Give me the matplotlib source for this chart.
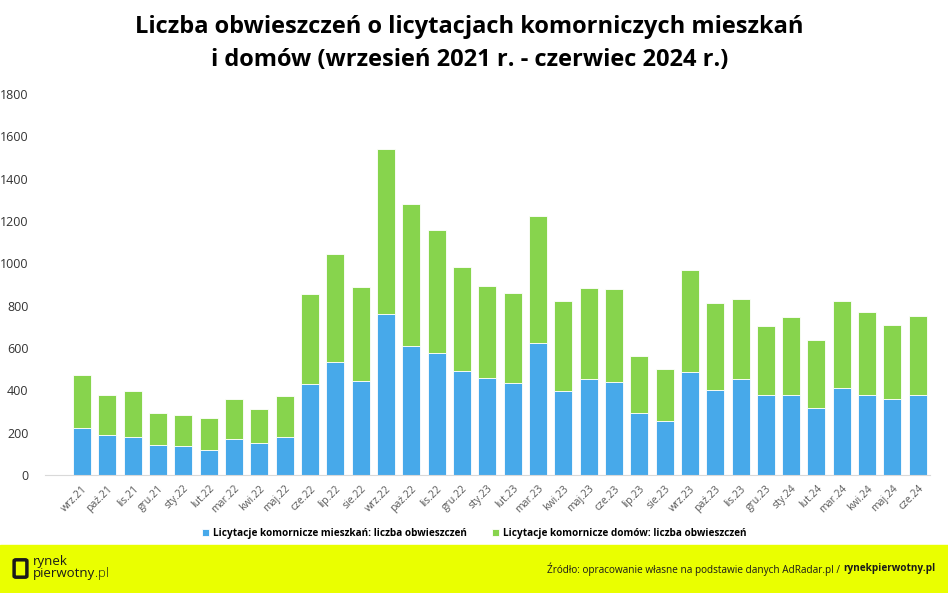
import matplotlib.pyplot as plt
from matplotlib.patches import Rectangle, FancyBboxPatch
import numpy as np

months = ['wrz.21', 'paź.21', 'lis.21', 'gru.21', 'sty.22', 'lut.22', 'mar.22', 'kwi.22', 'maj.22',
          'cze.22', 'lip.22', 'sie.22', 'wrz.22', 'paź.22', 'lis.22', 'gru.22', 'sty.23', 'lut.23',
          'mar.23', 'kwi.23', 'maj.23', 'cze.23', 'lip.23', 'sie.23', 'wrz.23', 'paź.23', 'lis.23',
          'gru.23', 'sty.24', 'lut.24', 'mar.24', 'kwi.24', 'maj.24', 'cze.24']

mieszkania = [223, 189, 179, 143, 139, 120, 170, 151, 179, 431, 534, 444, 762, 609, 575, 493, 458,
              435, 622, 397, 455, 438, 291, 257, 487, 403, 452, 378, 378, 318, 412, 379, 360, 379]
razem = [471, 378, 395, 293, 283, 269, 359, 310, 372, 857, 1042, 888, 1540, 1279, 1156, 981, 893,
         858, 1223, 820, 882, 877, 564, 499, 970, 812, 833, 704, 748, 638, 822, 771, 710, 751]
domy = [r - m for r, m in zip(razem, mieszkania)]

blue = '#47A9EA'
green = '#87D44D'

plt.rcParams['font.family'] = ['Open Sans', 'DejaVu Sans']

fig = plt.figure(figsize=(9.48, 5.93), dpi=100)
ax = fig.add_axes([0.0475, 0.199, 0.934, 0.6425])

x = np.arange(len(months))
ax.bar(x, mieszkania, width=0.71, color=blue, edgecolor='white', linewidth=0.6,
       label='Licytacje komornicze mieszkań: liczba obwieszczeń')
ax.bar(x, domy, width=0.71, bottom=mieszkania, color=green, edgecolor='white', linewidth=0.6,
       label='Licytacje komornicze domów: liczba obwieszczeń')

ax.set_xlim(-1.46, 33.5)
ax.set_ylim(0, 1800)
ax.set_yticks(range(0, 1801, 200))
ax.set_xticks(x)
ax.set_xticklabels(months, rotation=45, ha='right', rotation_mode='anchor', fontsize=7.5, color='#595959')
ax.tick_params(axis='y', labelsize=9, colors='#333333', length=0, pad=12)
ax.tick_params(axis='x', length=0, pad=6)
for s in ['top', 'right', 'left']:
    ax.spines[s].set_visible(False)
ax.spines['bottom'].set_color('#d9d9d9')

ax.legend(loc='upper center', bbox_to_anchor=(0.485, -0.115), ncol=2, frameon=False,
          prop={'weight': 'bold', 'size': 7.2}, handlelength=0.7, handleheight=0.7,
          handletextpad=0.4, columnspacing=2.5)

fig.text(0.495, 0.975, 'Liczba obwieszczeń o licytacjach komorniczych mieszkań\ni domów (wrzesień 2021 r. - czerwiec 2024 r.)',
         ha='center', va='top', fontsize=17, fontweight='bold', linespacing=1.5)

# stopka
fig.patches.append(Rectangle((0, 0), 1, 48 / 593, transform=fig.transFigure, color='#EAFF00', zorder=0))
fig.patches.append(FancyBboxPatch((16 / 948, 17 / 593), 9 / 948, 15 / 593, boxstyle='round,pad=0.002',
                                  transform=fig.transFigure, facecolor='none', edgecolor='#1a1a1a', linewidth=2.5))
fig.text(33 / 948, 32 / 593, 'rynek', fontsize=9.5, va='center', color='#1a1a1a')
t = fig.text(33 / 948, 19 / 593, 'pierwotny', fontsize=9.5, va='center', color='#1a1a1a')
r = fig.canvas.get_renderer()
bb = t.get_window_extent(renderer=r)
fig.text(bb.x1 / fig.bbox.width, 19 / 593, '.pl', fontsize=9.5, va='center', color='#1a1a1a', fontweight='light')

s = fig.text(0, 24 / 593, 'Źródło: opracowanie własne na podstawie danych AdRadar.pl / ', fontsize=7.2,
             ha='right', va='center', color='#1a1a1a')
b = fig.text(935 / 948, 24 / 593, 'rynekpierwotny.pl', fontsize=7.2, ha='right', va='center',
             fontweight='bold', color='#1a1a1a')
bb2 = b.get_window_extent(renderer=r)
s.set_x(bb2.x0 / fig.bbox.width)

fig.savefig('out.png', dpi=100)
